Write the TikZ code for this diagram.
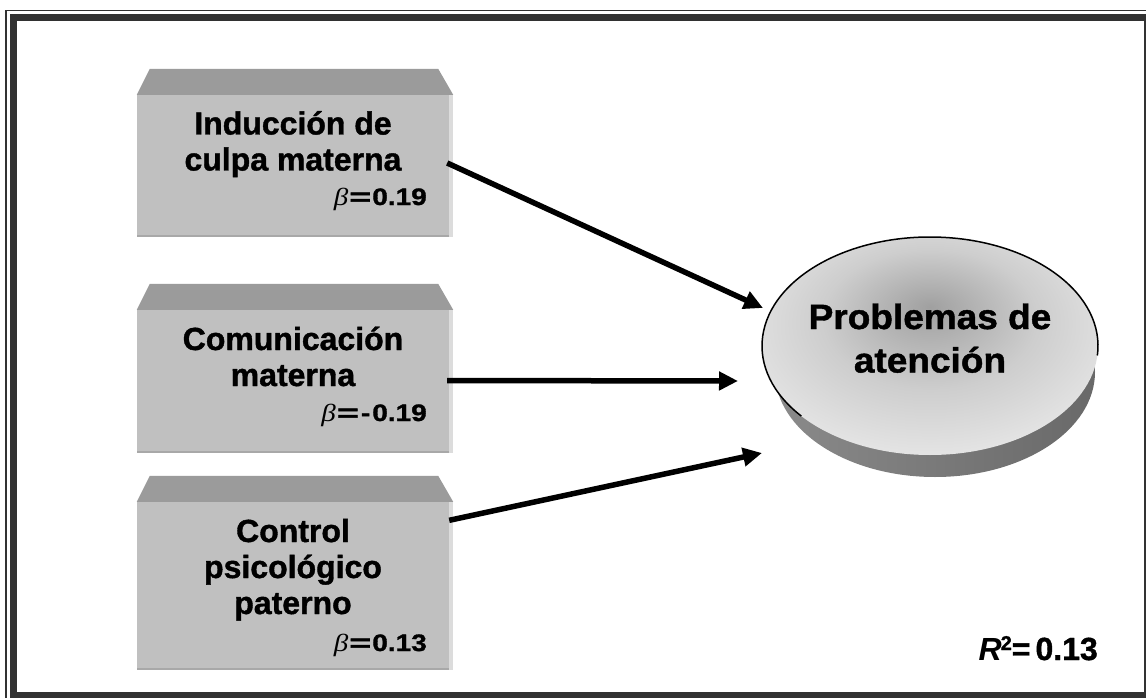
\documentclass[tikz,border=0pt]{standalone}
\usepackage{fontspec}
\setmainfont{Liberation Sans}[BoldFeatures={FakeBold=1.2}]
\newfontfamily\betaf{Liberation Serif}
\usetikzlibrary{arrows.meta,shapes.geometric,calc}
\definecolor{boxfront}{RGB}{192,192,192}
\definecolor{boxtop}{RGB}{155,155,155}
\definecolor{boxedge}{RGB}{220,220,220}
\definecolor{boxbottom}{RGB}{168,168,168}
\definecolor{framec}{RGB}{50,50,50}
\definecolor{diskin}{RGB}{160,160,160}
\definecolor{diskout}{RGB}{230,230,230}
\colorlet{diskmid}{diskout!65!diskin}
\definecolor{sidel}{RGB}{138,138,138}
\definecolor{sider}{RGB}{105,105,105}
\pgfdeclareradialshading{disk}{\pgfpoint{0bp}{9bp}}{color(0bp)=(diskin); color(16bp)=(diskmid); color(30bp)=(diskout); color(50bp)=(diskout)}
\newcommand\stack[1]{\vtop{\lineskiplimit=-100pt\relax\halign{\hfil##\hfil\cr#1\crcr}}}
\newcommand\bet{{\betaf\mdseries\itshape\fontsize{29}{29}\selectfont β}}
\newcommand\eqs{\kern1pt\scalebox{1.35}[1]{=}\kern1pt}
\tikzset{
  frontbox/.style={rectangle, fill=boxfront, draw=none, inner sep=0pt, minimum width=312pt},
  topface/.style={fill=boxtop},
  lbl/.style={font={\bfseries\fontsize{32}{36}\selectfont}, inner sep=0pt, anchor=base},
  betal/.style={font={\bfseries\fontsize{28}{28}\selectfont}, inner sep=0pt, anchor=base east, yscale=0.85},
  conn/.style={line width=5.5pt, -{Triangle[length=19pt,width=18pt]}},
}
\begin{document}
\begin{tikzpicture}[x=1pt,y=-1pt]
\useasboundingbox (0,0) rectangle (1146,698);
\clip (0,0) rectangle (1146,698);
% frame
\draw[line width=1.6pt, framec] (6,10.5) rectangle (1152,704);
\draw[line width=7.5pt, framec] (13.5,17.5) rectangle (1148,696);
% boxes
\foreach \nm/\cy/\h in {b1/166/142, b2/381.5/143, b3/586/168}{
  \node[frontbox, minimum height=\h pt] (\nm) at (293,\cy) {};
  \fill[topface] (\nm.north west) -- ++(13,-26) -- ($(\nm.north east)+(-11,-26)$) -- ($(\nm.north east)+(4,0)$) -- cycle;
  \fill[boxedge] (\nm.north east) rectangle ($(\nm.south east)+(4,0)$);
  \fill[boxbottom] ($(\nm.south west)+(0,-2)$) rectangle (\nm.south east);
}
\node[lbl] (t1) at (293,134.5) {\stack{Inducción de\cr culpa materna}};
\node[betal] (z1) at (427,205) {\bet\eqs0.19};
\node[lbl] (t2) at (293,350) {\stack{Comunicación\cr materna}};
\node[betal] (z2) at (427,421) {\bet\eqs\kern1pt-\kern2pt0.19};
\node[lbl] (t3) at (293,542) {\stack{Control\cr psicológico\cr paterno}};
\node[betal] (z3) at (427,651) {\bet\eqs0.13};
% outcome disk
\node[ellipse, inner sep=0pt, minimum width=320pt, minimum height=210pt, left color=sidel, right color=sider, draw=none] (es) at (935,372) {};
\node[ellipse, inner sep=0pt, minimum width=336pt, minimum height=218pt, shade, shading=disk, draw=none] (e) at (930,346) {};
\draw[line width=1.5pt] ([shift={(5:168 and 109)}]e.center) arc[start angle=5, end angle=-220, x radius=168, y radius=109];
\node[font={\bfseries\fontsize{37}{45.8}\selectfont}, inner sep=0pt, anchor=base, yscale=0.95] (et) at (930,329) {\stack{Problemas de\cr atención}};
% connectors
\coordinate (h1) at (763,308);
\coordinate (h2) at (738,381);
\coordinate (h3) at (762,453);
\draw[conn] ($(b1.east)+(-2,-3)$) -- (h1);
\draw[conn] ($(b2.east)+(-2,-1)$) -- (h2);
\draw[conn] ($(b3.north east)!0.11!(b3.south east)$) -- (h3);
% R squared
\node[font={\bfseries\fontsize{32}{32}\selectfont}, inner sep=0pt, anchor=base east] (r2) at (1098,660) {\textit{R}\kern-1pt\raisebox{10pt}{\fontsize{20}{20}\selectfont 2}=\kern5pt0.13};
\end{tikzpicture}
\end{document}
